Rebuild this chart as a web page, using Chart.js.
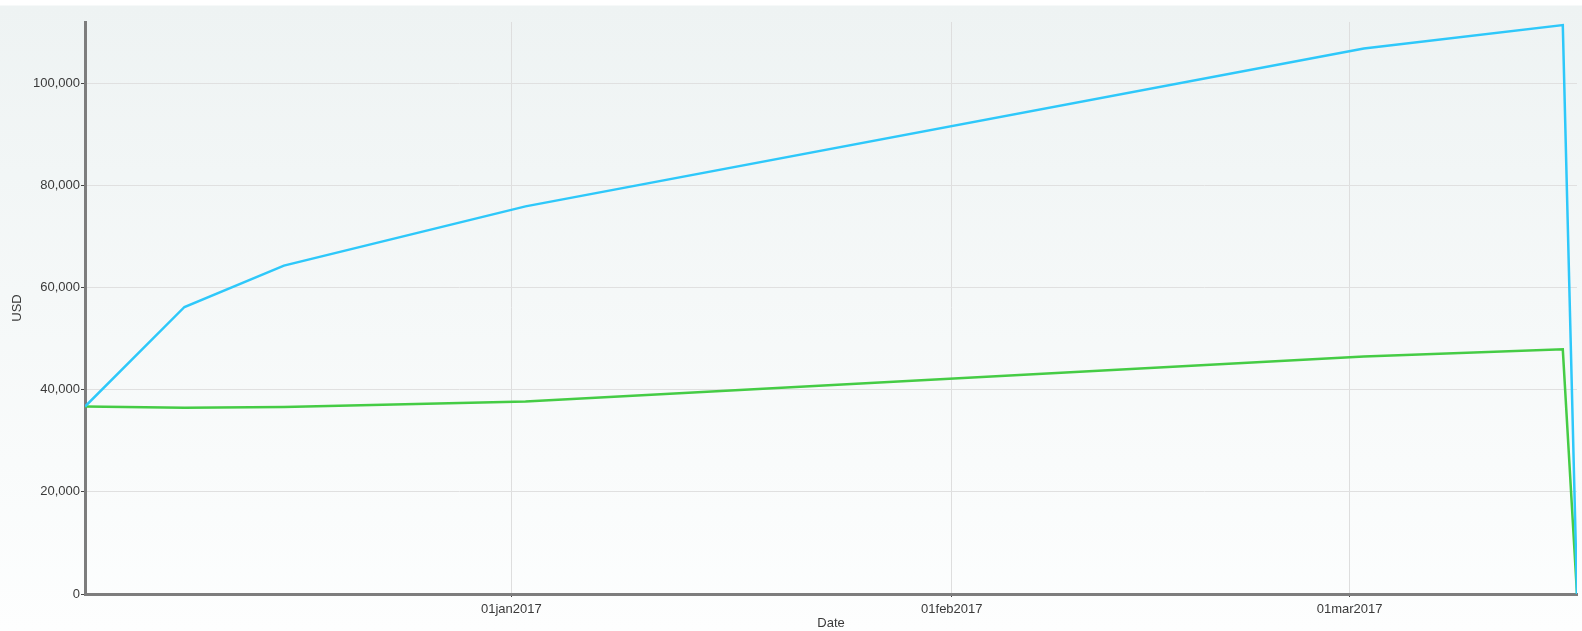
<!DOCTYPE html>
<html>
<head>
<meta charset="utf-8">
<script src="https://cdn.jsdelivr.net/npm/chart.js@4/dist/chart.umd.min.js"></script>
<style>
  html, body { margin: 0; padding: 0; background: #ffffff; }
  #wrap {
    position: relative; width: 1582px; height: 631px;
    background: linear-gradient(to bottom, #ffffff 0px, #ffffff 5px, #eef3f3 6px, #fdfefe 631px);
  }
  canvas { display: block; }
</style>
</head>
<body>
<div id="wrap"><canvas id="chart" width="1582" height="631"></canvas></div>
<script>
// ── Data ────────────────────────────────────────────
const dates      = ['2016-12-02', '2016-12-09', '2016-12-16', '2017-01-02', '2017-03-02', '2017-03-16', '2017-03-17'];
const blueValues = [36700, 56200, 64300, 75900, 106800, 111400, 0];
const greenValues = [36700, 36450, 36600, 37700, 46500, 47900, 0];

const xTickDates  = ['2017-01-01', '2017-02-01', '2017-03-01'];
const xTickLabels = ['01jan2017', '01feb2017', '01mar2017'];
const yTicks      = [0, 20000, 40000, 60000, 80000, 100000];

// ── Helpers ──────────────────────────────────────────
const DAY = 86400000;
function toDay(s) { return Date.parse(s + 'T00:00:00Z') / DAY; }
function pts(vals) { return dates.map((d, i) => ({ x: toDay(d), y: vals[i] })); }

const FONT = { family: "'Liberation Sans', Arial, sans-serif", size: 13 };

new Chart(document.getElementById('chart'), {
  type: 'line',
  data: {
    datasets: [
      {
        label: 'Series 1',
        data: pts(blueValues),
        borderColor: '#2ec8fa',
        borderWidth: 2.5,
        pointRadius: 0,
        tension: 0,
      },
      {
        label: 'Series 2',
        data: pts(greenValues),
        borderColor: '#45cc45',
        borderWidth: 2.5,
        pointRadius: 0,
        tension: 0,
      },
    ],
  },
  options: {
    responsive: false,
    animation: false,
    layout: { padding: { top: 22, right: 5, left: 0, bottom: 0 } },
    plugins: { legend: { display: false }, tooltip: { enabled: false } },
    scales: {
      x: {
        type: 'linear',
        min: toDay(dates[0]),
        max: toDay(dates[dates.length - 1]),
        afterBuildTicks: s => { s.ticks = xTickDates.map(d => ({ value: toDay(d) })); },
        afterFit: s => { s.height = 37; },
        ticks: {
          color: '#3a3a3a',
          font: FONT,
          padding: 5,
          maxRotation: 0,
          autoSkip: false,
          callback: v => xTickLabels[xTickDates.findIndex(d => toDay(d) === v)] || '',
        },
        grid: { color: '#dedede', lineWidth: 1, tickColor: '#444', tickLength: 3 },
        border: { color: '#7d7d7d', width: 3 },
        title: { display: true, text: 'Date', color: '#3a3a3a', font: FONT, padding: { top: 0, bottom: 0 } },
      },
      y: {
        min: 0,
        max: 112000,
        afterBuildTicks: s => { s.ticks = yTicks.map(v => ({ value: v })); },
        afterFit: s => { s.width = 85; },
        ticks: {
          color: '#3a3a3a',
          font: FONT,
          padding: 1,
          callback: v => v.toLocaleString('en-US'),
        },
        grid: { color: '#e0e0e0', lineWidth: 1, tickColor: '#444', tickLength: 4 },
        border: { color: '#7d7d7d', width: 3 },
        title: { display: true, text: 'USD', color: '#3a3a3a', font: FONT, padding: { top: 10, bottom: 0 } },
      },
    },
  },
});
</script>
</body>
</html>
